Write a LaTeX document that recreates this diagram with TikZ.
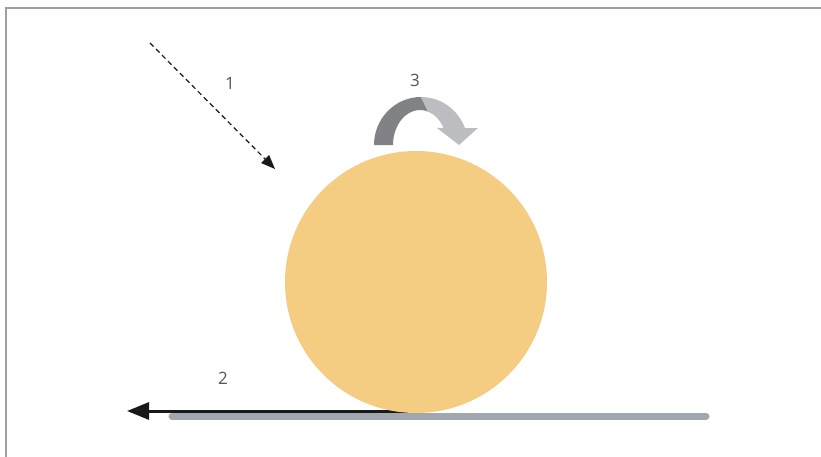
\documentclass[tikz,border=0pt]{standalone}
\usepackage{fontspec}
\setmainfont{Open Sans}
\usetikzlibrary{arrows.meta}
\definecolor{ballc}{HTML}{F4CC82}
\definecolor{groundc}{HTML}{A2A6AF}
\definecolor{darkarc}{HTML}{808285}
\definecolor{lightarc}{HTML}{BCBDC0}
\definecolor{framec}{HTML}{A0A0A0}
\definecolor{labelc}{HTML}{555555}
\tikzset{
  lbl/.style={font=\fontsize{17}{20}\selectfont, text=labelc, inner sep=0pt},
  framestyle/.style={draw=framec, line width=1.6pt},
}
\begin{document}
\begin{tikzpicture}[x=1pt,y=-1pt]
\useasboundingbox (0,0) rectangle (821,457);
% frame (top and left edges)
\draw[framestyle] (6,457) -- (6,8) -- (821,8);
% ground bar
\coordinate (g1) at (172,416);
\coordinate (g2) at (706,416);
\draw[groundc, line width=7pt, line cap=round] (g1) -- (g2);
% black motion arrow 2
\coordinate (m1) at (416,411);
\coordinate (m2) at (127,411);
\draw[black!90, line width=3pt, -{Triangle[length=22pt,width=17pt]}] (m1) -- (m2);
% ball
\node[circle, fill=ballc, minimum size=262pt, inner sep=0pt] (ball) at (416,282) {};
% dashed arrow 1
\coordinate (d1) at (150,43);
\coordinate (d2) at (275,169);
\draw[black!90, line width=1.2pt, dash pattern=on 5pt off 3.5pt, -{Triangle[length=14pt,width=11pt]}] (d1) -- (d2);
% curved arrow 3
\fill[darkarc] (374,145) arc[start angle=180, end angle=270, x radius=47, y radius=48]
  -- (428,111.6) arc[start angle=287.2, end angle=180, x radius=27, y radius=35] -- cycle;
\fill[lightarc] (421,97) arc[start angle=270, end angle=339.3, x radius=47, y radius=48]
  -- (478,128) -- (459,145) -- (437,128) -- (443.6,128)
  arc[start angle=330.9, end angle=287.2, x radius=27, y radius=35] -- cycle;
% labels
\node[lbl] (l1) at (230,83) {1};
\node[lbl] (l2) at (223,378) {2};
\node[lbl] (l3) at (415,80) {3};
\end{tikzpicture}
\end{document}
